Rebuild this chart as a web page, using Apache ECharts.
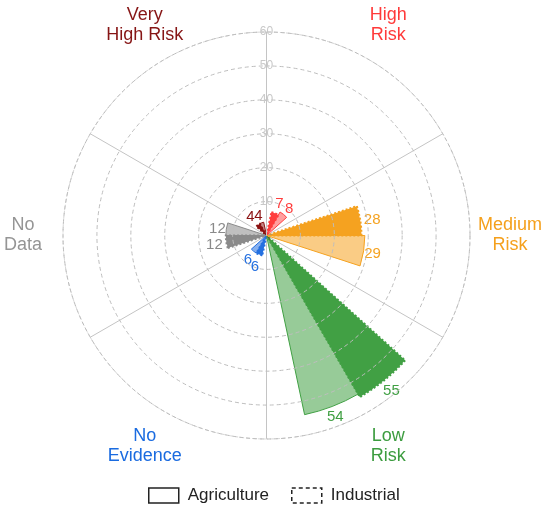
<!DOCTYPE html>
<html lang="en">
<head>
    <meta charset="UTF-8">
    <title>Risk by sector</title>
    <script src="https://cdn.jsdelivr.net/npm/echarts@6/dist/echarts.min.js"></script>
    <style>
        html, body { margin: 0; padding: 0; background: #fff; }
        #chart { width: 550px; height: 509px; }
    </style>
</head>
<body>
<div id="chart"></div>
<script>
    // categories, clockwise from north
    const categories = ['High Risk', 'Medium Risk', 'Low Risk', 'No Evidence', 'No Data', 'Very High Risk'];
    const industrial = [7, 28, 55, 6, 12, 4];
    const agriculture = [8, 29, 54, 6, 12, 4];
    const radiusTicks = [0, 10, 20, 30, 40, 50, 60];

    const baseColors = ['#ff3d3d', '#f5a220', '#41a044', '#2470e0', '#8a8a8a', '#8b1111'];
    const lightColors = ['rgba(255,61,61,0.5)', 'rgba(245,162,32,0.55)', 'rgba(65,160,68,0.55)',
        'rgba(36,112,224,0.55)', 'rgba(138,138,138,0.55)', 'rgba(139,17,17,0.5)'];
    const labelColors = ['#ff3a3a', '#f5a01c', '#3c9c3f', '#1a6be0', '#959595', '#861515'];

    const LABEL_R = 71.8; // where the category names sit, in radius units

    let myChart = echarts.init(document.getElementById('chart'));

    // build data items (per sector colours)
    let indData = industrial.map(function (v, i) {
        return {
            value: v,
            itemStyle: {color: baseColors[i], borderColor: baseColors[i]},
            label: {color: baseColors[i]}
        };
    });
    let agrData = agriculture.map(function (v, i) {
        return {
            value: v,
            itemStyle: {color: lightColors[i], borderColor: baseColors[i]},
            label: {color: baseColors[i]}
        };
    });
    let nameData = categories.map(function (c, i) {
        return {value: [LABEL_R, c], label: {color: labelColors[i]}};
    });

    let option = {
        textStyle: {fontFamily: 'Liberation Sans, Arial, sans-serif'},
        animation: false,
        legend: {
            left: 143,
            top: 482,
            itemWidth: 30,
            itemHeight: 15,
            itemGap: 22,
            textStyle: {fontSize: 17, color: '#222', padding: [0, 0, 0, 4]},
            data: [
                {name: 'Agriculture', icon: 'rect',
                    itemStyle: {color: 'rgba(0,0,0,0)', borderColor: '#222', borderWidth: 1.5}},
                {name: 'Industrial', icon: 'rect',
                    itemStyle: {color: 'rgba(0,0,0,0)', borderColor: '#222', borderWidth: 1.5, borderType: [4, 3]}}
            ]
        },
        polar: {
            center: [266.5, 235.5],
            radius: [0, 203.5]
        },
        angleAxis: {
            type: 'category',
            data: categories,
            startAngle: 90,
            clockwise: true,
            axisLine: {show: true, lineStyle: {color: '#d6d6d6', type: 'dashed', width: 1}},
            axisTick: {show: false},
            axisLabel: {show: false},
            splitLine: {show: true, lineStyle: {color: '#c4c4c4', width: 1}}
        },
        radiusAxis: {
            type: 'value',
            min: radiusTicks[0],
            max: radiusTicks[radiusTicks.length - 1],
            interval: 10,
            z: 5,
            axisLine: {show: true, lineStyle: {color: '#c4c4c4', width: 1}},
            axisTick: {show: false},
            axisLabel: {
                color: '#c8c8c8', fontSize: 12, margin: 0,
                align: 'center', verticalAlign: 'middle', showMinLabel: false
            },
            splitLine: {show: true, lineStyle: {color: '#bdbdbd', type: [4, 3], width: 1}}
        },
        series: [
            {
                name: 'Industrial',
                type: 'bar',
                coordinateSystem: 'polar',
                data: indData,
                barGap: '0%',
                barCategoryGap: '40%',
                itemStyle: {borderWidth: 2, borderType: [2, 2]},
                label: {show: true, position: 'end', rotate: 0, fontSize: 15, distance: 12, offset: [0, 9]}
            },
            {
                name: 'Agriculture',
                type: 'bar',
                coordinateSystem: 'polar',
                data: agrData,
                barGap: '0%',
                barCategoryGap: '40%',
                itemStyle: {borderWidth: 1},
                label: {show: true, position: 'end', rotate: 0, fontSize: 15, distance: 9, offset: [0, 9]}
            },
            {
                name: 'names',
                type: 'scatter',
                coordinateSystem: 'polar',
                clip: false,
                silent: true,
                symbolSize: 0,
                itemStyle: {opacity: 1},
                data: nameData,
                label: {
                    show: true,
                    position: 'inside',
                    formatter: function (p) {
                        return p.value[1].replace(' ', '\n').split('\n').map(function (l) {
                            return '{t|' + l + '}';
                        }).join('\n');
                    },
                    rich: {t: {align: 'center', fontSize: 18, lineHeight: 20}}
                }
            }
        ]
    };
    myChart.setOption(option);
</script>
</body>
</html>
